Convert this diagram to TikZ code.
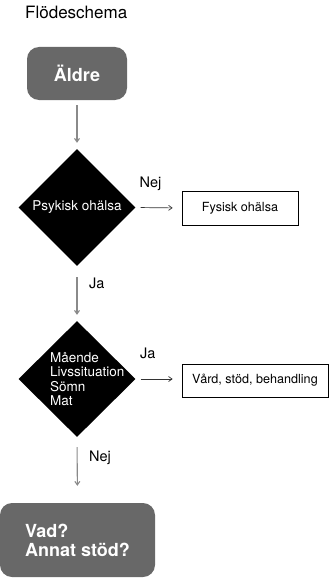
\documentclass[tikz,border=0pt]{standalone}
\usepackage{fontspec}
\setmainfont{TeX Gyre Heros}
\usetikzlibrary{shapes.geometric,arrows.meta}
\definecolor{boxgray}{HTML}{686868}
\definecolor{linegray}{HTML}{8A8A8A}
\tikzset{
  startend/.style={fill=boxgray, rounded corners=12pt, draw=none, text=white,
    font=\fontsize{18}{19}\selectfont\bfseries, inner sep=0pt},
  decision/.style={diamond, fill=black, draw=none, inner sep=0pt, text=white},
  outcome/.style={rectangle, draw=black, line width=0.7pt, inner sep=0pt,
    font=\fontsize{12.6}{14}\selectfont},
  vconn/.style={draw=linegray, line width=1.1pt, -{Straight Barb[length=3.5pt,width=5pt]}},
  hconn/.style={draw=black!80, line width=0.7pt, -{Straight Barb[length=3.5pt,width=5pt]}},
  edgelabel/.style={font=\fontsize{14.5}{16}\selectfont, inner sep=0pt, anchor=base west},
}
\begin{document}
\begin{tikzpicture}[x=1pt,y=-1pt]
  \useasboundingbox (0,0) rectangle (329,578);

  % title
  \node[anchor=base west, inner sep=0pt, font=\fontsize{17}{19}\selectfont] (title) at (25,18.5) {Flödeschema};

  % flow nodes
  \node[startend, minimum width=100pt, minimum height=53pt] (aeldre) at (77,73.5) {Äldre};
  \node[decision, minimum width=117pt, minimum height=117pt,
        font=\fontsize{13.5}{15}\selectfont] (d1) at (77,207.5) {Psykisk ohälsa};
  \node[outcome, minimum width=116pt, minimum height=34pt] (fys) at (240,208) {Fysisk ohälsa};
  \node[decision, minimum width=117pt, minimum height=116pt] (d2) at (77,379) {};
  \node[anchor=west, inner sep=0pt, align=left, text=white,
        font=\fontsize{13.5}{14.3}\selectfont] (d2txt) at (50,379)
        {Mående\\Livssituation\\Sömn\\Mat};
  \node[outcome, minimum width=146pt, minimum height=33pt] (vard) at (255,380.5) {Vård, stöd, behandling};
  \node[startend, minimum width=155pt, minimum height=74pt, align=left] (vad) at (77.5,540)
        {Vad?\\Annat stöd?};

  % connectors
  \draw[vconn, shorten <=5pt, shorten >=6pt] (aeldre.south) -- (d1.north);
  \draw[hconn, shorten <=5pt, shorten >=9pt] (d1.east) -- (fys.west);
  \draw[vconn, shorten <=11pt, shorten >=6pt] (d1.south) -- (d2.north);
  \draw[hconn, shorten <=5pt, shorten >=9pt] (d2.east) -- (vard.west |- d2.east);
  \draw[vconn, shorten <=10pt, shorten >=17pt] (d2.south) -- (vad.north);

  % branch labels
  \node[edgelabel] (l1) at (139.5,187.5) {Nej};
  \node[edgelabel] (l2) at (89,288) {Ja};
  \node[edgelabel] (l3) at (140,358) {Ja};
  \node[edgelabel] (l4) at (89,461) {Nej};
\end{tikzpicture}
\end{document}
